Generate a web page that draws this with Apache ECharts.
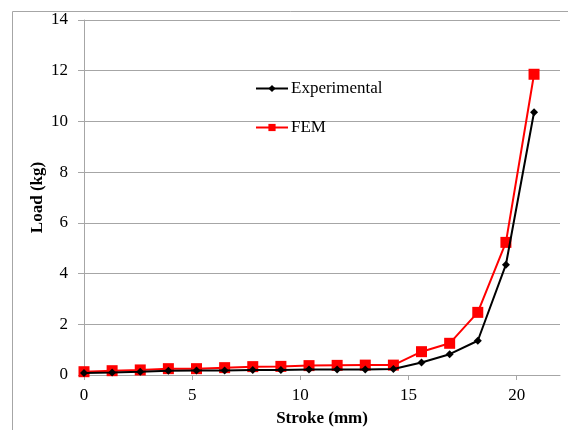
<!DOCTYPE html>
<html><head><meta charset="utf-8">
<script src="https://cdn.jsdelivr.net/npm/echarts@6/dist/echarts.min.js"></script>
<style>html,body{margin:0;padding:0;background:#fff}#c{width:568px;height:430px}</style>
</head><body><div id="c"></div>
<script>
var stroke = [0, 1.3, 2.6, 3.9, 5.2, 6.5, 7.8, 9.1, 10.4, 11.7, 13, 14.3, 15.6, 16.9, 18.2, 19.5, 20.8];
var experimental = [0.08, 0.10, 0.13, 0.17, 0.18, 0.18, 0.20, 0.20, 0.22, 0.22, 0.22, 0.24, 0.49, 0.82, 1.35, 4.35, 10.36];
var fem = [0.13, 0.17, 0.20, 0.25, 0.25, 0.29, 0.33, 0.34, 0.37, 0.38, 0.39, 0.39, 0.92, 1.25, 2.47, 5.23, 11.86];
var xTicks = [0, 5, 10, 15, 20];
var yTicks = [0, 2, 4, 6, 8, 10, 12, 14];

function pairs(xs, ys) { return xs.map(function (x, i) { return [x, ys[i]]; }); }

var font = 'Liberation Serif';
var chart = echarts.init(document.getElementById('c'));
chart.setOption({
  backgroundColor: '#fff',
  animation: false,
  graphic: [{
    type: 'rect', left: 10, top: 9, shape: { width: 600, height: 460 },
    style: { fill: 'none', stroke: '#a6a6a6', lineWidth: 1 }, silent: true
  }],
  grid: { left: 84, top: 20, right: 8, bottom: 55, outerBoundsMode: 'none', containLabel: false },
  legend: {
    orient: 'vertical', left: 255, top: 80, itemGap: 22, padding: 0,
    itemWidth: 32, itemHeight: 9,
    textStyle: { fontFamily: font, fontSize: 17, color: '#000', padding: [0, 0, 0, -2] },
    data: ['Experimental', 'FEM']
  },
  xAxis: {
    type: 'value', min: 0, max: 22, interval: 5,
    name: 'Stroke (mm)', nameLocation: 'middle', nameGap: 35, nameMoveOverlap: false,
    nameTextStyle: { fontFamily: font, fontSize: 17, fontWeight: 'bold', color: '#000' },
    axisLine: { show: true, lineStyle: { color: '#a6a6a6' } },
    axisTick: { show: true, length: 5, lineStyle: { color: '#a6a6a6' },
      customValues: xTicks },
    axisLabel: { fontFamily: font, fontSize: 17, color: '#000', margin: 12,
      customValues: xTicks },
    splitLine: { show: false }
  },
  yAxis: {
    type: 'value', min: 0, max: 14, interval: 2,
    name: 'Load (kg)', nameLocation: 'middle', nameGap: 38, nameMoveOverlap: false,
    nameTextStyle: { fontFamily: font, fontSize: 17, fontWeight: 'bold', color: '#000' },
    axisLine: { show: true, lineStyle: { color: '#a6a6a6' } },
    axisTick: { show: true, length: 6, lineStyle: { color: '#a6a6a6' },
      customValues: yTicks },
    axisLabel: { fontFamily: font, fontSize: 17, color: '#000', margin: 16,
      customValues: yTicks },
    splitLine: { show: true, lineStyle: { color: '#a6a6a6', width: 1 } }
  },
  series: [
    {
      name: 'Experimental', type: 'line', data: pairs(stroke, experimental),
      symbol: 'diamond', symbolSize: 8, showAllSymbol: true,
      lineStyle: { color: '#000', width: 2 },
      itemStyle: { color: '#000' }, z: 3
    },
    {
      name: 'FEM', type: 'line', data: pairs(stroke, fem),
      symbol: 'rect', symbolSize: 11, showAllSymbol: true,
      lineStyle: { color: '#ff0000', width: 2 },
      itemStyle: { color: '#ff0000' }, z: 2
    }
  ]
});
</script>
</body></html>
